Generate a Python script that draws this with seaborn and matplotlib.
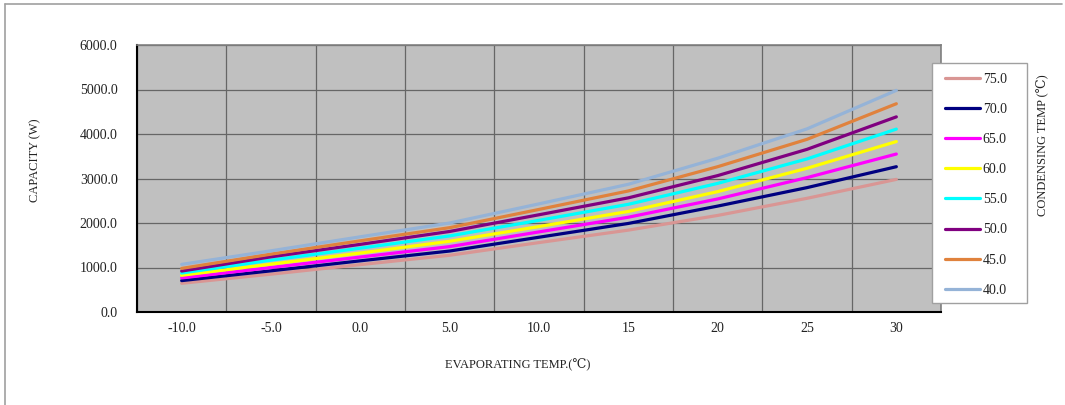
import matplotlib
matplotlib.use("Agg")
import matplotlib.pyplot as plt
from matplotlib.lines import Line2D
from matplotlib.patches import Rectangle
import numpy as np
import pandas as pd
import seaborn as sns

# ---- data ----
evap_temp = [-10, -5, 0, 5, 10, 15, 20, 25, 30]
cond_temps = ["75.0", "70.0", "65.0", "60.0", "55.0", "50.0", "45.0", "40.0"]
cap_75 = [645, 850, 1065, 1275, 1560, 1840, 2170, 2555, 2980]
cap_70 = [705, 925, 1150, 1370, 1680, 1990, 2380, 2795, 3265]
cap_65 = [765, 1000, 1235, 1470, 1800, 2130, 2540, 3020, 3550]
cap_60 = [825, 1075, 1325, 1590, 1920, 2260, 2705, 3230, 3830]
cap_55 = [875, 1165, 1435, 1710, 2060, 2420, 2890, 3440, 4110]
cap_50 = [920, 1240, 1520, 1810, 2185, 2565, 3065, 3655, 4385]
cap_45 = [980, 1300, 1600, 1895, 2305, 2720, 3265, 3880, 4680]
cap_40 = [1070, 1375, 1690, 2000, 2430, 2870, 3455, 4115, 4980]
series = [cap_75, cap_70, cap_65, cap_60, cap_55, cap_50, cap_45, cap_40]
colors = ["#D99694", "#000080", "#FF00FF", "#FFFF00", "#00FFFF", "#800080", "#E0823D", "#95B3D7"]
x_tick_vals = [-10, -5, 0, 5, 10, 15, 20, 25, 30]
x_tick_labels = ["-10.0", "-5.0", "0.0", "5.0", "10.0", "15", "20", "25", "30"]
y_tick_vals = [0, 1000, 2000, 3000, 4000, 5000, 6000]
y_tick_labels = ["0.0", "1000.0", "2000.0", "3000.0", "4000.0", "5000.0", "6000.0"]

rows = []
for c, vals in zip(cond_temps, series):
    for xv, yv in zip(evap_temp, vals):
        rows.append({"evap": xv, "cap": yv, "cond": c})
df = pd.DataFrame(rows)

sns.set_theme(style="white")
fam = ["Liberation Serif", "DejaVu Serif", "Noto Sans CJK SC"]
plt.rcParams["font.family"] = fam

W, H = 1065, 405
fig = plt.figure(figsize=(W / 100, H / 100), dpi=100)
fig.patch.set_facecolor("white")
ax = fig.add_axes([137 / W, 1 - 312 / H, 804 / W, 267 / H])
ax.set_facecolor("#C0C0C0")

palette = dict(zip(cond_temps, colors))
sns.lineplot(data=df, x="evap", y="cap", hue="cond", hue_order=cond_temps,
             palette=palette, linewidth=2.3, legend=False, ax=ax, zorder=3)

ax.set_xlim(-12.5, 32.5)
ax.set_ylim(0, 6000)
ax.set_xticks(x_tick_vals)
ax.set_xticklabels(x_tick_labels)
ax.set_yticks(y_tick_vals)
ax.set_yticklabels(y_tick_labels)
ax.set_xticks(np.arange(-12.5, 33, 2.5), minor=True)
ax.grid(False)
ax.grid(True, which="minor", axis="x", color="#666666", linewidth=0.9, zorder=1)
ax.grid(True, which="major", axis="y", color="#666666", linewidth=0.9, zorder=1)
ax.set_axisbelow(True)
ax.tick_params(axis="both", which="both", length=0, labelsize=10, colors="#222222")
ax.tick_params(axis="y", pad=14)
ax.tick_params(axis="x", pad=7)

for side in ["left", "bottom"]:
    ax.spines[side].set_color("black")
    ax.spines[side].set_linewidth(1.5)
for side in ["top", "right"]:
    ax.spines[side].set_color("#808080")
    ax.spines[side].set_linewidth(1.2)

ax.set_xlabel("EVAPORATING TEMP.(℃)", fontsize=9, color="#222222")
ax.set_ylabel("CAPACITY (W)", fontsize=9, color="#222222")
ax.xaxis.set_label_coords((518 - 137) / 804, (312 - 359) / 267)
ax.yaxis.set_label_coords((41 - 137) / 804, 0.57)

# legend box
fig.add_artist(Rectangle((932 / W, 1 - 303 / H), 95 / W, 240 / H,
                         transform=fig.transFigure, facecolor="white",
                         edgecolor="#A0A0A0", linewidth=1.0, zorder=2))
handles = [Line2D([0], [0], color=c, linewidth=2.3) for c in colors]
leg = fig.legend(handles, cond_temps, loc="upper left",
                 bbox_to_anchor=(945 / W, 1 - 73 / H), frameon=False,
                 fontsize=10, handlelength=2.5, handletextpad=0.22,
                 labelspacing=1.23, borderpad=0, borderaxespad=0)
leg.set_zorder(3)
for t in leg.get_texts():
    t.set_color("#222222")

fig.text(1043 / W, 1 - 145 / H, "CONDENSING TEMP (℃)", rotation=90,
         ha="center", va="center", fontsize=9, color="#222222")

# outer chart frame
fig.add_artist(Line2D([5 / W, 1062 / W], [1 - 4 / H, 1 - 4 / H],
                      transform=fig.transFigure, color="#A0A0A0", linewidth=1.2))
fig.add_artist(Line2D([5 / W, 5 / W], [0, 1 - 4 / H],
                      transform=fig.transFigure, color="#A0A0A0", linewidth=1.2))

fig.savefig("out.png", dpi=100)
